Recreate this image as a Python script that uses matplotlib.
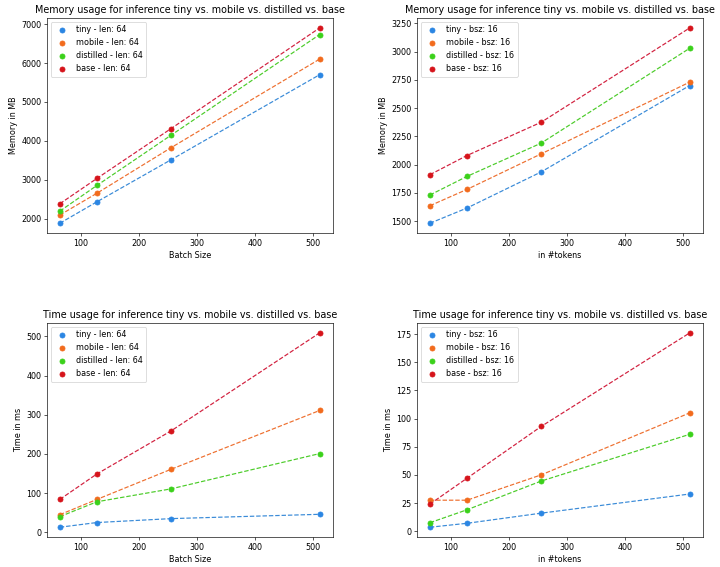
import matplotlib
matplotlib.use('Agg')
import matplotlib.pyplot as plt

x = [64, 128, 256, 512]
models = ['tiny', 'mobile', 'distilled', 'base']
colors = ['#2b86e3', '#f26b1d', '#3bd11b', '#d6141b']
line_colors = ['#3a8bd8', '#ee7030', '#4ccc2a', '#d2213f']

mem_len = {
    'tiny': [1890, 2440, 3520, 5700],
    'mobile': [2100, 2660, 3830, 6100],
    'distilled': [2200, 2860, 4150, 6730],
    'base': [2390, 3040, 4320, 6900],
}
mem_bsz = {
    'tiny': [1480, 1615, 1935, 2700],
    'mobile': [1635, 1780, 2095, 2730],
    'distilled': [1730, 1895, 2190, 3030],
    'base': [1910, 2080, 2375, 3210],
}
time_len = {
    'tiny': [13, 25, 35, 46],
    'mobile': [45, 84, 161, 311],
    'distilled': [40, 78, 111, 201],
    'base': [84, 149, 259, 509],
}
time_bsz = {
    'tiny': [3.5, 7, 16, 33],
    'mobile': [27.5, 27.5, 50, 105],
    'distilled': [7.5, 19, 44.5, 86],
    'base': [24, 47, 93, 176],
}

# the reference looks like a default figure shrunk down, so scale everything
k = 0.575
plt.rcParams.update({
    'font.size': 10 * k,
    'axes.titlesize': 12 * k,
    'axes.labelsize': 10 * k,
    'xtick.labelsize': 10 * k,
    'ytick.labelsize': 10 * k,
    'legend.fontsize': 10 * k,
    'axes.linewidth': 0.8 * k,
    'xtick.major.size': 3.5 * k,
    'ytick.major.size': 3.5 * k,
    'xtick.major.width': 0.8 * k,
    'ytick.major.width': 0.8 * k,
    'xtick.major.pad': 3.5 * k,
    'ytick.major.pad': 3.5 * k,
    'axes.titlepad': 6 * k,
    'axes.labelpad': 4 * k,
    'legend.frameon': True,
    'patch.linewidth': 1.0 * k,
})


def draw(ax, data, suffix, title, xlabel, ylabel):
    for m, c, lc in zip(models, colors, line_colors):
        ax.plot(x, data[m], '--', color=lc, linewidth=1.5 * k)
        ax.scatter(x, data[m], color=c, s=36 * k * k * 1.1, zorder=3,
                   label=f'{m} - {suffix}')
    ax.set_title(title)
    ax.set_xlabel(xlabel)
    ax.set_ylabel(ylabel)
    ax.set_xticks([100, 200, 300, 400, 500])
    ax.legend(loc='upper left')


def main():
    fig = plt.figure(figsize=(7.2, 5.67), dpi=100)
    ax1 = fig.add_axes([0.065, 0.589, 0.397, 0.379])
    ax2 = fig.add_axes([0.579, 0.589, 0.397, 0.379])
    ax3 = fig.add_axes([0.065, 0.053, 0.397, 0.377])
    ax4 = fig.add_axes([0.579, 0.053, 0.397, 0.377])

    draw(ax1, mem_len, 'len: 64',
         'Memory usage for inference tiny vs. mobile vs. distilled vs. base',
         'Batch Size', 'Memory in MB')
    draw(ax2, mem_bsz, 'bsz: 16',
         'Memory usage for inference tiny vs. mobile vs. distilled vs. base',
         'in #tokens', 'Memory in MB')
    draw(ax3, time_len, 'len: 64',
         'Time usage for inference tiny vs. mobile vs. distilled vs. base',
         'Batch Size', 'Time in ms')
    draw(ax4, time_bsz, 'bsz: 16',
         'Time usage for inference tiny vs. mobile vs. distilled vs. base',
         'in #tokens', 'Time in ms')
    ax4.set_yticks([0, 25, 50, 75, 100, 125, 150, 175])

    fig.savefig('out.png')


if __name__ == '__main__':
    main()
